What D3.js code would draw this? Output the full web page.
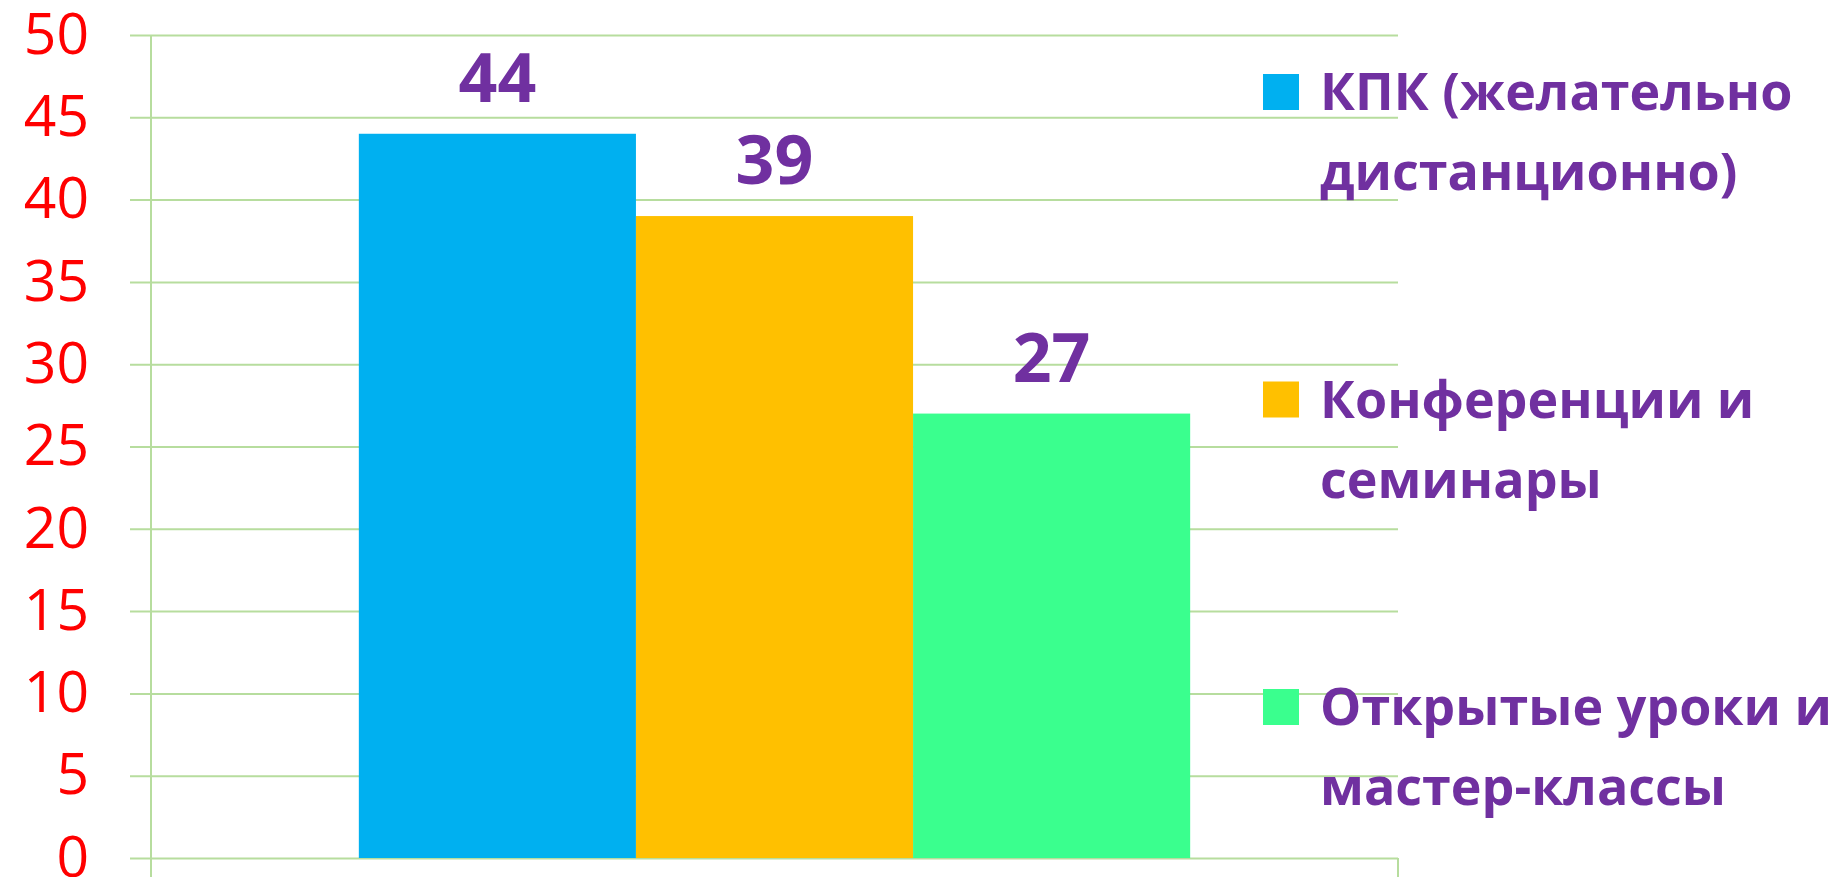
<!DOCTYPE html>
<html>
<head>
<meta charset="utf-8">
<script src="https://cdn.jsdelivr.net/npm/d3@7"></script>
<style>
  html, body { margin: 0; padding: 0; background: #fff; }
  svg { display: block; font-family: "Open Sans", "Noto Sans", sans-serif; }
</style>
</head>
<body>
<div id="chart"></div>
<script>
// values
var seriesNames = ["КПК (желательно дистанционно)", "Конференции и семинары", "Открытые уроки и мастер-классы"];
var legendLines = [["КПК (желательно", "дистанционно)"], ["Конференции и", "семинары"], ["Открытые уроки и", "мастер-классы"]];
var seriesValues = [44, 39, 27];
var seriesColors = ["#00B0F0", "#FFC000", "#3AFF8E"];
var yTicks = [0, 5, 10, 15, 20, 25, 30, 35, 40, 45, 50];

function drawChart() {
  var width = 1832, height = 877;
  var plotLeft = 151, plotRight = 1398, plotTop = 35, plotBottom = 858;
  var gridColor = "#b7dd9e";
  var purple = "#7030A0";

  var svg = d3.select("#chart").append("svg")
    .attr("width", width)
    .attr("height", height);

  var y = d3.scaleLinear()
    .domain([0, 50])
    .range([plotBottom, plotTop]);

  // one category group, the three series side by side inside it
  var x0 = d3.scaleBand()
    .domain(["all"])
    .range([plotLeft, plotRight])
    .paddingInner(0)
    .paddingOuter(0.25);

  var x1 = d3.scaleBand()
    .domain(seriesNames)
    .range([0, x0.bandwidth()])
    .padding(0);

  // gridlines + red tick labels
  var yAxis = svg.append("g")
    .attr("transform", "translate(130,0)")
    .call(d3.axisLeft(y).tickValues(yTicks).tickSize(-(plotRight - 130)).tickPadding(41));
  yAxis.select(".domain").remove();
  yAxis.selectAll(".tick line")
    .attr("stroke", gridColor)
    .attr("stroke-width", 2);
  yAxis.selectAll(".tick text")
    .attr("fill", "#FF0000")
    .style("font-size", "57px")
    .style("font-family", "'Open Sans', sans-serif");

  // vertical axis line and category ticks
  svg.append("line")
    .attr("x1", plotLeft).attr("x2", plotLeft)
    .attr("y1", plotTop).attr("y2", height)
    .attr("stroke", gridColor).attr("stroke-width", 2);
  svg.append("line")
    .attr("x1", plotRight).attr("x2", plotRight)
    .attr("y1", plotBottom).attr("y2", height)
    .attr("stroke", gridColor).attr("stroke-width", 2);

  var group = svg.append("g")
    .attr("transform", "translate(" + x0("all") + ",0)");

  group.selectAll("rect.bar")
    .data(seriesValues)
    .enter().append("rect")
    .attr("class", "bar")
    .attr("x", function(d, i) { return x1(seriesNames[i]); })
    .attr("width", x1.bandwidth())
    .attr("y", function(d) { return y(d); })
    .attr("height", function(d) { return plotBottom - y(d); })
    .attr("fill", function(d, i) { return seriesColors[i]; });

  group.selectAll("text.value")
    .data(seriesValues)
    .enter().append("text")
    .attr("class", "value")
    .attr("x", function(d, i) { return x1(seriesNames[i]) + x1.bandwidth() / 2; })
    .attr("y", function(d) { return y(d) - 32; })
    .attr("text-anchor", "middle")
    .attr("fill", purple)
    .style("font-size", "68px")
    .style("font-weight", "bold")
    .text(function(d) { return d; });

  // legend on the right
  var legendY = d3.scalePoint()
    .domain(seriesNames)
    .range([92, 707]);

  var item = svg.append("g").selectAll("g.item")
    .data(seriesNames)
    .enter().append("g")
    .attr("class", "item")
    .attr("transform", function(d) { return "translate(0," + legendY(d) + ")"; });

  item.append("rect")
    .attr("x", 1263)
    .attr("y", -18)
    .attr("width", 36)
    .attr("height", 36)
    .attr("fill", function(d, i) { return seriesColors[i]; });

  item.append("text")
    .attr("x", 1320)
    .attr("y", 18)
    .attr("fill", purple)
    .style("font-size", "52px")
    .style("font-weight", "bold")
    .selectAll("tspan")
    .data(function(d, i) { return legendLines[i]; })
    .enter().append("tspan")
    .attr("x", 1320)
    .attr("dy", function(d, i) { return i === 0 ? 0 : 80; })
    .text(function(d) { return d; });
}

drawChart();
</script>
</body>
</html>
